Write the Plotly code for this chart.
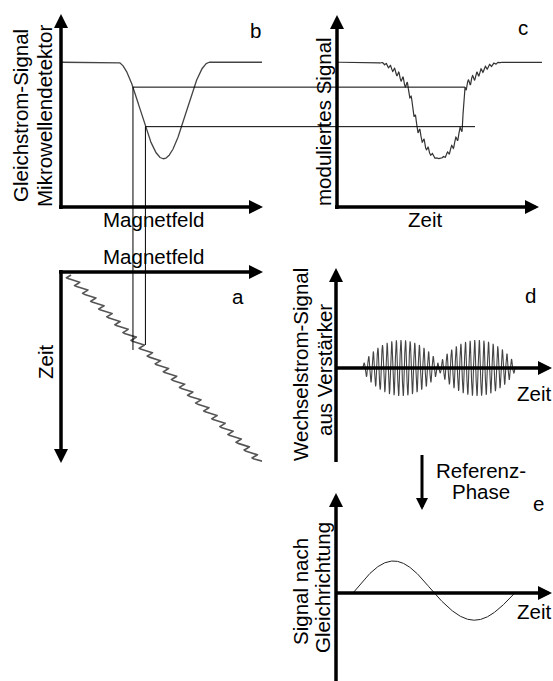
import numpy as np
import plotly.graph_objects as go

# ---------------- values ----------------
# absorption dip of panel b (field units 0..10, signal units 0..1)
resonance_field = 5.1
dip_half_width = 2.3
baseline_level = 0.75
dip_depth = 0.5
# the two field values traced from b down to a and across to c
marker_fields = [3.58, 4.2]
marker_time_ends = [3.88, 3.63]     # end of vertical lines in panel a (time)
marker_c_ends = [5.73, 6.10]        # end of level lines in panel c (time)
# linear field sweep with modulation (panel a: field vs time)
sweep_start = 0.2
sweep_rate = 1.03
a_time_span = [0.15, 9.45]
mod_amp_a, mod_period_a = 0.22, 0.39
# panel c: time -> field correspondence
c_knot_time = [2.45, 3.60, 3.94, 4.76, 5.62, 5.73, 7.15]
c_knot_field = [2.8, 3.58, 4.2, 5.1, 6.0, 6.62, 7.4]
mod_amp_c, mod_period_c = 0.07, 0.157
# panel d: AC signal from amplifier
d_amp, d_floor, d_half_width, d_period, d_shape = 0.7, 0.18, 2.84, 0.172, 0.6
# panel e: rectified signal
e_amp = [0.8, 0.68]
e_offset, e_period = -3.21, 6.04

# ---------------- layout (pixels) ----------------
W, H = 553, 681
FONT = "Liberation Sans, Arial, sans-serif"
FS = 20.5

def dx(a, b):
    return [a / W, b / W]

def dy(top, bot):
    return [1 - bot / H, 1 - top / H]

t0 = (resonance_field - sweep_start) / sweep_rate
PXT = 26.8  # pixels per time unit in c, d, e

axes = {
    "b": dict(dom_x=dx(61, 262), dom_y=dy(14, 207), rx=[0, 10], ry=[0, 1]),
    "c": dict(dom_x=dx(337, 542), dom_y=dy(14, 207),
              rx=[t0 - (439 - 337) / PXT, t0 + (542 - 439) / PXT], ry=[0, 1]),
    "a": dict(dom_x=dx(61, 262), dom_y=dy(272, 463), rx=[0, 10],
              ry=[(463 - 272) / 20.1, 0]),
    "d": dict(dom_x=dx(336, 552), dom_y=dy(268, 462),
              rx=[t0 - (439 - 336) / PXT, t0 + (552 - 439) / PXT],
              ry=[-(462 - 368) / 40, (368 - 268) / 40]),
    "e": dict(dom_x=dx(336, 552), dom_y=dy(493, 681),
              rx=[t0 - (439 - 336) / PXT, t0 + (552 - 439) / PXT],
              ry=[-(681 - 593) / 40, (593 - 493) / 40]),
}
ids = {"b": "", "c": "2", "a": "3", "d": "4", "e": "5"}


def to_paper_x(p, v):
    ax = axes[p]
    r0, r1 = ax["rx"]
    d0, d1 = ax["dom_x"]
    return d0 + (v - r0) / (r1 - r0) * (d1 - d0)


def to_paper_y(p, v):
    ax = axes[p]
    r0, r1 = ax["ry"]
    d0, d1 = ax["dom_y"]
    return d0 + (v - r0) / (r1 - r0) * (d1 - d0)


def dip(B):
    d = B - resonance_field
    g = np.where(np.abs(d) < dip_half_width,
                 0.5 * (1 + np.cos(np.pi * d / dip_half_width)), 0.0)
    return baseline_level - dip_depth * g


fig = go.Figure()

# panel b
Bb = np.linspace(0.05, 10, 800)
fig.add_trace(go.Scatter(x=Bb, y=dip(Bb), mode="lines",
                         line=dict(color="#444", width=1.3),
                         xaxis="x", yaxis="y", showlegend=False))

# panel c
tc = np.arange(axes["c"]["rx"][0], axes["c"]["rx"][1], 0.002)
Bc = np.interp(tc, c_knot_time, c_knot_field) + mod_amp_c * np.sin(2 * np.pi * tc / mod_period_c)
fig.add_trace(go.Scatter(x=tc, y=dip(Bc), mode="lines",
                         line=dict(color="#333", width=1.2),
                         xaxis="x2", yaxis="y2", showlegend=False))

# panel a: modulated field sweep (field horizontal, time downwards)
ta = np.arange(a_time_span[0], a_time_span[1], 0.003)
Ba = sweep_start + sweep_rate * ta + mod_amp_a * np.sin(2 * np.pi * ta / mod_period_a)
fig.add_trace(go.Scatter(x=Ba, y=ta, mode="lines",
                         line=dict(color="#555", width=1.6),
                         xaxis="x3", yaxis="y3", showlegend=False))

# panel d
td = np.arange(t0 - d_half_width, t0 + d_half_width, 0.002)
env = d_amp * np.maximum(np.abs(np.sin(np.pi * (td - t0) / d_half_width)) ** d_shape, d_floor)
yd = env * np.sin(2 * np.pi * (td - (t0 - d_half_width)) / d_period)
fig.add_trace(go.Scatter(x=td, y=yd, mode="lines",
                         line=dict(color="#444", width=1.1),
                         xaxis="x4", yaxis="y4", showlegend=False))

# panel e
te = np.linspace(t0 + e_offset, t0 + e_offset + e_period, 400)
se = np.sin(2 * np.pi * (te - (t0 + e_offset)) / e_period)
ye = np.where(se >= 0, e_amp[0] * se, e_amp[1] * se)
fig.add_trace(go.Scatter(x=te, y=ye, mode="lines",
                         line=dict(color="#222", width=1.0),
                         xaxis="x5", yaxis="y5", showlegend=False))

shapes = []
# connector lines derived from the data
for Bm, ta_end, tc_end in zip(marker_fields, marker_time_ends, marker_c_ends):
    lvl = float(dip(np.array(Bm)))
    px = to_paper_x("b", Bm)
    py = to_paper_y("b", lvl)
    shapes.append(dict(type="line", xref="paper", yref="paper",
                       x0=px, x1=to_paper_x("c", tc_end), y0=py, y1=py,
                       line=dict(color="black", width=1)))
    shapes.append(dict(type="line", xref="paper", yref="paper",
                       x0=px, x1=px, y0=py, y1=to_paper_y("a", ta_end),
                       line=dict(color="black", width=1)))

# axis lines with arrow heads (pixel positions: tail -> tip)
arrows = [
    ((61, 209), (61, 14)),
    ((59, 207), (263, 207)),
    ((337, 209), (337, 15)),
    ((335, 207), (539, 207)),
    ((59, 272), (263, 272)),
    ((61, 270), (61, 463)),
    ((336, 462), (336, 268)),
    ((336, 368), (552, 368)),
    ((336, 681), (336, 493)),
    ((336, 593), (552, 593)),
]
annotations = []


def add_arrow(tail, tip, width):
    (x0, y0), (x1, y1) = tail, tip
    L = ((x1 - x0) ** 2 + (y1 - y0) ** 2) ** 0.5
    ux, uy = (x1 - x0) / L, (y1 - y0) / L
    back = 6
    shapes.append(dict(type="line", xref="paper", yref="paper",
                       x0=x0 / W, y0=1 - y0 / H,
                       x1=(x1 - ux * back) / W, y1=1 - (y1 - uy * back) / H,
                       line=dict(color="black", width=width)))
    annotations.append(dict(x=x1 / W, y=1 - y1 / H, xref="paper", yref="paper",
                            text="", showarrow=True, arrowhead=2,
                            arrowsize=0.8, arrowwidth=width, arrowcolor="black",
                            ax=-ux * 12, ay=-uy * 12, standoff=0))


for tail, tip in arrows:
    add_arrow(tail, tip, 3.5)
add_arrow((422, 455), (422, 510), 3)

texts = [
    ("Gleichstrom-Signal", 20, 116, -90),
    ("Mikrowellendetektor", 44, 116, -90),
    ("Magnetfeld", 153, 219, 0),
    ("b", 255, 30, 0),
    ("moduliertes Signal", 323, 122, -90),
    ("Zeit", 425, 219, 0),
    ("c", 523, 28, 0),
    ("Magnetfeld", 153, 256, 0),
    ("a", 238, 296, 0),
    ("Zeit", 45, 362, -90),
    ("Wechselstrom-Signal", 301, 365, -90),
    ("aus Verstärker", 324, 370, -90),
    ("d", 530, 295, 0),
    ("Zeit", 534, 393, 0),
    ("Referenz-", 481, 470, 0),
    ("Phase", 481, 492, 0),
    ("e", 538, 503, 0),
    ("Signal nach", 300, 592, -90),
    ("Gleichrichtung", 322, 588, -90),
    ("Zeit", 534, 611, 0),
]
for txt, x, y, ang in texts:
    annotations.append(dict(x=x / W, y=1 - y / H, xref="paper", yref="paper",
                            text=txt, showarrow=False, textangle=ang,
                            xanchor="center", yanchor="middle", borderpad=0,
                            font=dict(family=FONT, size=FS, color="black")))

layout = dict(width=W, height=H, autosize=False,
              margin=dict(l=0, r=0, t=0, b=0, pad=0),
              paper_bgcolor="white", plot_bgcolor="white",
              shapes=shapes, annotations=annotations, showlegend=False)
for p, ax in axes.items():
    i = ids[p]
    layout["xaxis" + i] = dict(domain=ax["dom_x"], range=ax["rx"], visible=False,
                               anchor="y" + i, fixedrange=True)
    layout["yaxis" + i] = dict(domain=ax["dom_y"], range=ax["ry"], visible=False,
                               anchor="x" + i, fixedrange=True)
fig.update_layout(**layout)
fig.write_html("out.html", config={"displayModeBar": False},
               post_script="document.body.style.margin='0';document.body.style.padding='0';document.body.style.overflow='hidden';")
